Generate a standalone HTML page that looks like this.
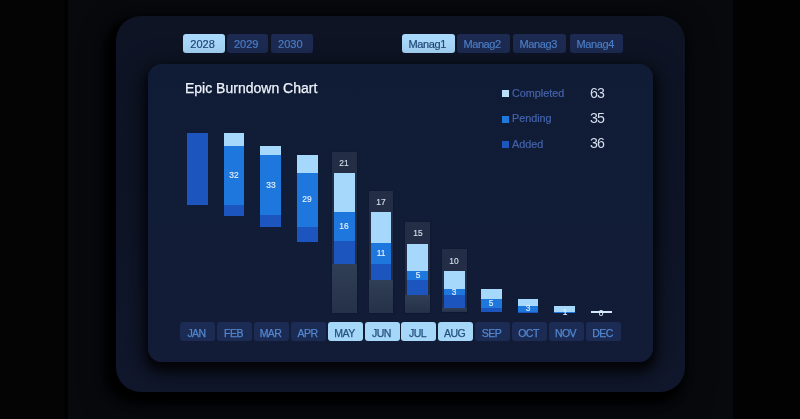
<!DOCTYPE html>
<html><head><meta charset="utf-8">
<style>
*{margin:0;padding:0;box-sizing:border-box}
html,body{width:800px;height:419px;overflow:hidden}
.title,.lt,.ln,.lab,.btn,.m{will-change:transform}
body{position:relative;font-family:"Liberation Sans",sans-serif;
background:linear-gradient(to right,#040405 0,#040405 64px,#010102 64px,#010102 68px,#07090d 68px,#07090d 733px,#020203 733px,#020203 800px)}
.outer{position:absolute;left:116px;top:15.5px;width:569px;height:376.5px;border-radius:25px;
background:linear-gradient(to bottom,#0e1424 0%,#0f1528 60%,#11182d 100%);box-shadow:-6px 6px 10px 5px rgba(0,0,0,.95),-4px 12px 30px 2px rgba(0,0,0,.5)}
.inner{position:absolute;left:147.5px;top:64px;width:505.2px;height:297.5px;border-radius:14px;
background:linear-gradient(to bottom,#101c36,#121c37);box-shadow:0 6px 10px 3px rgba(0,0,0,.7),0 8px 24px 8px rgba(0,0,0,.4)}
.btn{position:absolute;top:34px;height:19.3px;border-radius:3px;background:#1d2b53;color:#4d7fc6;
font-size:11px;line-height:21.2px;text-align:center;padding-right:3px;-webkit-text-stroke:0.2px currentColor}
.btn.on{background:#a8d8fb;color:#22497a}
.title{position:absolute;left:184.7px;top:79.6px;font-size:14px;color:#eef3fb;-webkit-text-stroke:0.25px #eef3fb;white-space:nowrap}
.lg{position:absolute;left:502px;width:7px;height:7px}
.lt{position:absolute;left:512px;font-size:10.8px;color:#4464ac;-webkit-text-stroke:0.2px #4464ac;line-height:12px}
.ln{position:absolute;left:590px;font-size:14.2px;letter-spacing:-0.9px;color:#d4deec;line-height:14px}
.seg{position:absolute}
.box{position:absolute;background:#232e46;box-shadow:0 0 1.5px 0.5px rgba(6,9,20,.5)}
.boxlo{position:absolute;background:linear-gradient(to bottom,#303e56,#243149)}
.lab{position:absolute;font-size:8.4px;color:#e4f0fc;text-align:center;width:30px;line-height:10px;-webkit-text-stroke:0.15px currentColor}
.lab.bl{color:#d3deec}
.m{position:absolute;top:322.3px;height:19.1px;width:34.5px;border-radius:3px;background:#1c2b53;color:#5287d0;
font-size:10.5px;line-height:22px;text-align:center;letter-spacing:-0.55px;padding-right:1.5px;-webkit-text-stroke:0.25px currentColor}
.m.on{background:#a5d7f9;color:#27507f}
</style></head><body>
<div class="outer"></div>
<div class="btn on" style="left:183.1px;width:42.2px">2028</div>
<div class="btn" style="left:227.2px;width:41.3px">2029</div>
<div class="btn" style="left:271.3px;width:41.6px">2030</div>
<div class="btn on" style="left:401.6px;width:53.4px;letter-spacing:-0.4px">Manag1</div>
<div class="btn" style="left:457.4px;width:53.2px;letter-spacing:-0.4px">Manag2</div>
<div class="btn" style="left:513.2px;width:53.4px;letter-spacing:-0.4px">Manag3</div>
<div class="btn" style="left:569.6px;width:53.4px;letter-spacing:-0.4px">Manag4</div>
<div class="inner"></div>
<div class="title">Epic Burndown Chart</div>

<div class="lg" style="top:90.3px;background:#b8e0fb"></div>
<div class="lt" style="top:86.7px">Completed</div>
<div class="ln" style="top:86.2px">63</div>
<div class="lg" style="top:116px;background:#1f78dc"></div>
<div class="lt" style="top:112px">Pending</div>
<div class="ln" style="top:111.2px">35</div>
<div class="lg" style="top:141.2px;background:#1b55bd"></div>
<div class="lt" style="top:137.7px">Added</div>
<div class="ln" style="top:135.5px">36</div>

<div id="chart"><div class="seg" style="left:186.80px;top:133px;width:20.8px;height:71.60px;background:linear-gradient(to bottom,#1b55bd 0.00px 71.60px)"></div>
<div class="seg" style="left:223.55px;top:133px;width:20.8px;height:82.50px;background:linear-gradient(to bottom,#a5d8fb 0.00px 13.40px,#1e77dd 13.40px 71.60px,#1b55bd 71.60px 82.50px)"></div>
<div class="lab" style="left:218.95px;top:169.90px">32</div>
<div class="seg" style="left:260.30px;top:146.2px;width:20.8px;height:80.80px;background:linear-gradient(to bottom,#a5d8fb 0.00px 9.00px,#1e77dd 9.00px 69.30px,#1b55bd 69.30px 80.80px)"></div>
<div class="lab" style="left:255.70px;top:179.75px">33</div>
<div class="seg" style="left:297.05px;top:155.0px;width:20.8px;height:86.50px;background:linear-gradient(to bottom,#a5d8fb 0.00px 18.00px,#1e77dd 18.00px 72.00px,#1b55bd 72.00px 86.50px)"></div>
<div class="lab" style="left:292.45px;top:194.40px">29</div>
<div class="box" style="left:331.80px;top:152px;width:24.8px;height:160.70px"></div>
<div class="boxlo" style="left:331.80px;top:263.8px;width:24.8px;height:48.90px"></div>
<div class="lab bl" style="left:329.20px;top:157.85px">21</div>
<div class="seg" style="left:333.80px;top:173.1px;width:20.8px;height:90.70px;background:linear-gradient(to bottom,#a5d8fb 0.00px 39.00px,#1e77dd 39.00px 68.40px,#1b55bd 68.40px 90.70px)"></div>
<div class="lab" style="left:329.20px;top:221.20px">16</div>
<div class="box" style="left:368.55px;top:190.5px;width:24.8px;height:122.10px"></div>
<div class="boxlo" style="left:368.55px;top:279.8px;width:24.8px;height:32.80px"></div>
<div class="lab bl" style="left:365.95px;top:196.60px">17</div>
<div class="seg" style="left:370.55px;top:212.1px;width:20.8px;height:67.70px;background:linear-gradient(to bottom,#a5d8fb 0.00px 31.50px,#1e77dd 31.50px 51.70px,#1b55bd 51.70px 67.70px)"></div>
<div class="lab" style="left:365.95px;top:248.10px">11</div>
<div class="box" style="left:405.30px;top:222px;width:24.8px;height:90.50px"></div>
<div class="boxlo" style="left:405.30px;top:295.3px;width:24.8px;height:17.20px"></div>
<div class="lab bl" style="left:402.70px;top:228.10px">15</div>
<div class="seg" style="left:407.30px;top:243.6px;width:20.8px;height:51.70px;background:linear-gradient(to bottom,#a5d8fb 0.00px 27.40px,#1e77dd 27.40px 36.40px,#1b55bd 36.40px 51.70px)"></div>
<div class="lab" style="left:402.70px;top:269.90px">5</div>
<div class="box" style="left:442.05px;top:249.4px;width:24.8px;height:63.10px"></div>
<div class="boxlo" style="left:442.05px;top:307.9px;width:24.8px;height:4.60px"></div>
<div class="lab bl" style="left:439.45px;top:255.50px">10</div>
<div class="seg" style="left:444.05px;top:271px;width:20.8px;height:36.90px;background:linear-gradient(to bottom,#a5d8fb 0.00px 18.50px,#1e77dd 18.50px 24.10px,#1b55bd 24.10px 36.90px)"></div>
<div class="lab" style="left:439.45px;top:286.70px">3</div>
<div class="seg" style="left:480.80px;top:289.2px;width:20.8px;height:22.40px;background:linear-gradient(to bottom,#a5d8fb 0.00px 9.80px,#1e77dd 9.80px 18.70px,#1b55bd 18.70px 22.40px)"></div>
<div class="lab" style="left:476.20px;top:297.85px">5</div>
<div class="seg" style="left:517.55px;top:298.7px;width:20.8px;height:14.10px;background:linear-gradient(to bottom,#a5d8fb 0.00px 7.40px,#1e77dd 7.40px 13.30px,#1b55bd 13.30px 14.10px)"></div>
<div class="lab" style="left:512.95px;top:303.45px">3</div>
<div class="seg" style="left:554.30px;top:306.0px;width:20.8px;height:7.40px;background:linear-gradient(to bottom,#a5d8fb 0.00px 6.00px,#1e77dd 6.00px 7.40px)"></div>
<div class="lab" style="left:549.70px;top:306.60px">1</div>
<div class="seg" style="left:591.05px;top:311.4px;width:20.8px;height:2.00px;background:linear-gradient(to bottom,#cfe8fb 0.00px 2.00px)"></div>
<div class="lab" style="left:586.45px;top:307.70px">0</div>
<div class="m" style="left:180.00px">JAN</div>
<div class="m" style="left:216.90px">FEB</div>
<div class="m" style="left:253.80px">MAR</div>
<div class="m" style="left:290.70px">APR</div>
<div class="m on" style="left:327.60px">MAY</div>
<div class="m on" style="left:364.50px">JUN</div>
<div class="m on" style="left:401.40px">JUL</div>
<div class="m on" style="left:438.30px">AUG</div>
<div class="m" style="left:475.20px">SEP</div>
<div class="m" style="left:512.10px">OCT</div>
<div class="m" style="left:549.00px">NOV</div>
<div class="m" style="left:585.90px">DEC</div></div><!--end-->
</body></html>
